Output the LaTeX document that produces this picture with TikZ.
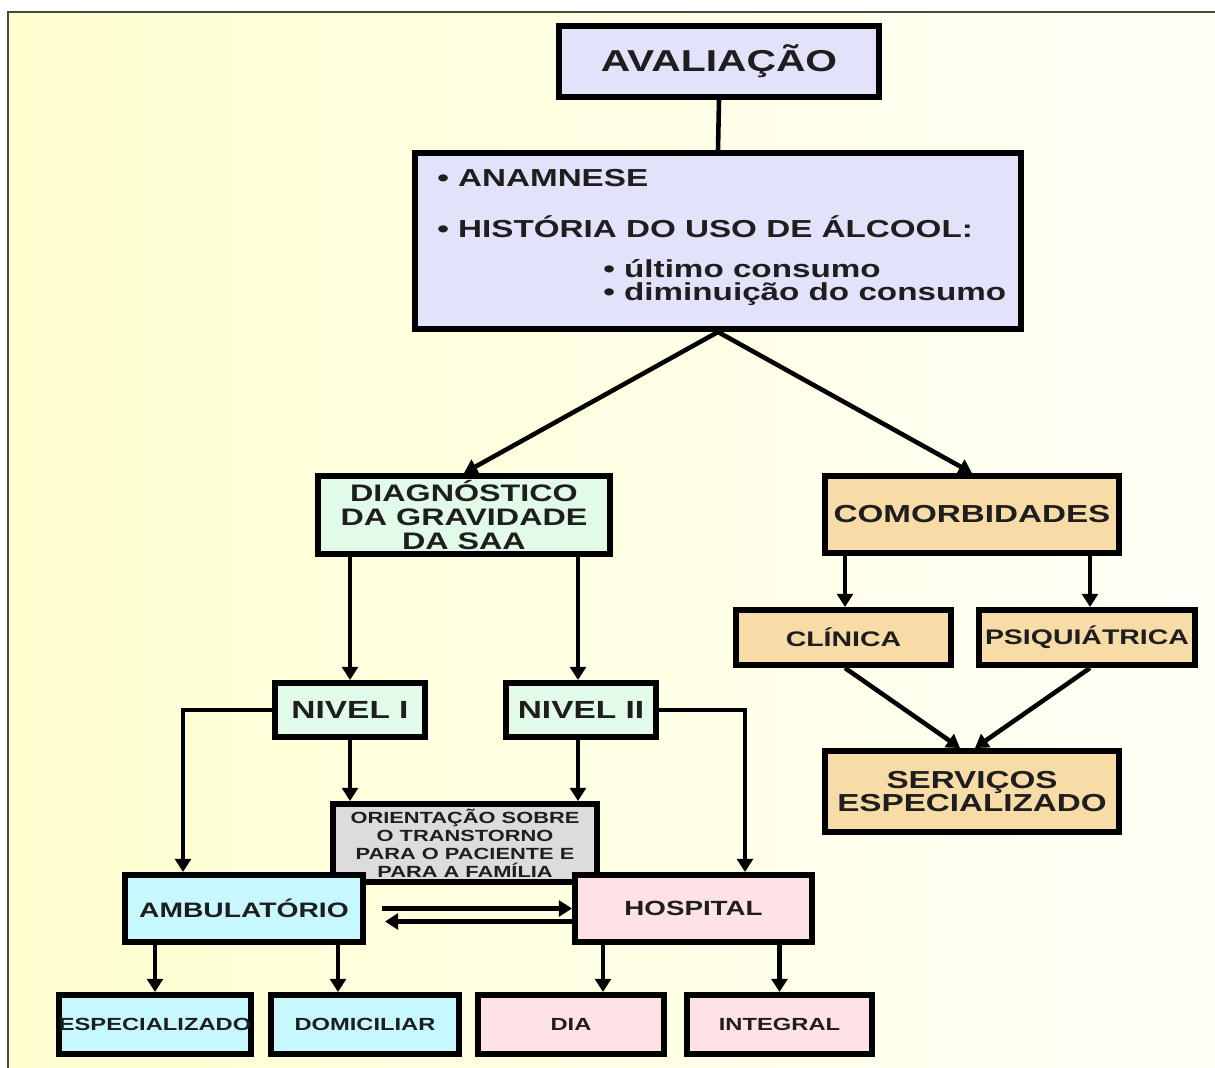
\documentclass[tikz,border=0pt]{standalone}
\usepackage{fontspec}
\setmainfont{Liberation Sans}[FakeStretch=1.35]
\usepackage{tikz}
\usetikzlibrary{calc,arrows.meta}
\definecolor{bgl}{HTML}{FFFFD0}
\definecolor{bgr}{HTML}{FFFFF8}
\definecolor{frame}{HTML}{4A4838}
\definecolor{lav}{HTML}{E2E2FA}
\definecolor{mint}{HTML}{E2FAE8}
\definecolor{sand}{HTML}{F8DCA8}
\definecolor{grey}{HTML}{DCDCDC}
\definecolor{aqua}{HTML}{C8F8FF}
\definecolor{rose}{HTML}{FFE2E6}
\definecolor{ink}{HTML}{1E1E1E}
\tikzset{
  box/.style={draw=black, line width=3.4pt, inner sep=0pt, align=center, text=ink},
  lnk/.style={draw=black, line width=2.6pt},
  arr/.style={lnk, -{Triangle[width=9pt,length=7.5pt]}},
  lab/.style={anchor=base west, inner sep=0pt, text=ink, align=left},
}
\newcommand{\fsz}[2]{\fontsize{#1}{#2}\selectfont\bfseries}

\begin{document}
\begin{tikzpicture}[x=0.02cm, y=-0.02cm]
  \useasboundingbox (0,0) rectangle (1215,1068);
  \shade[left color=bgl, right color=bgr] (8,12) rectangle (1215,1068);
  \draw[frame, line width=1.2pt] (8,1068) -- (8,12) -- (1215,12);

  % top part
  \node[box, fill=lav, minimum width=6.4cm, minimum height=1.42cm, font=\fsz{17.2}{18}] (aval) at (719,61.5) {AVALIAÇÃO};
  \node[box, fill=lav, minimum width=12.12cm, minimum height=3.52cm] (anam) at (718,241) {};
  \node[lab, font=\fsz{14}{15}] (anam1) at (437,187) {• ANAMNESE};
  \node[lab, font=\fsz{14}{15}] (anam2) at (437,237) {• HISTÓRIA DO USO DE ÁLCOOL:};
  \node[lab, font=\fsz{14}{13}] (anam3) at (603,300) {• último consumo\\• diminuição do consumo};

  \node[box, fill=mint, minimum width=5.84cm, minimum height=1.56cm, font=\fsz{13.6}{13.9}] (diag) at (464,515) {DIAGNÓSTICO\\DA GRAVIDADE\\DA SAA};
  \node[box, fill=sand, minimum width=5.88cm, minimum height=1.54cm, font=\fsz{14}{15}] (comorb) at (972,514.5) {COMORBIDADES};

  % comorbidades
  \node[box, fill=sand, minimum width=4.3cm, minimum height=1.1cm, font=\fsz{12}{13}] (clin) at (843.5,637.5) {CLÍNICA};
  \node[box, fill=sand, minimum width=4.32cm, minimum height=1.1cm, font=\fsz{12}{13}] (psiq) at (1087,637.5) {PSIQUIÁTRICA};
  \node[box, fill=sand, minimum width=5.88cm, minimum height=1.62cm, font=\fsz{14}{13.6}] (serv) at (972,791.5) {SERVIÇOS\\ESPECIALIZADO};

  % niveis
  \node[box, fill=mint, minimum width=3cm, minimum height=1.08cm, font=\fsz{14.1}{15}] (nivA) at (350,710) {NIVEL I};
  \node[box, fill=mint, minimum width=3cm, minimum height=1.08cm, font=\fsz{14.1}{15}] (nivB) at (581,710) {NIVEL II};
  \node[box, fill=grey, minimum width=5.28cm, minimum height=1.56cm, font=\fsz{9.2}{10.2}] (orient) at (465,843) {ORIENTAÇÃO SOBRE\\O TRANSTORNO\\PARA O PACIENTE E\\PARA A FAMÍLIA};
  \node[box, fill=aqua, minimum width=4.76cm, minimum height=1.34cm, font=\fsz{11.9}{13}] (amb) at (244,908.5) {AMBULATÓRIO};
  \node[box, fill=rose, minimum width=4.74cm, minimum height=1.34cm, font=\fsz{11.7}{13}] (hosp) at (693.5,908.5) {HOSPITAL};

  % bottom row
  \node[box, fill=aqua, minimum width=3.8cm, minimum height=1.18cm, font=\fsz{10}{11}] (espec) at (155,1024.5) {ESPECIALIZADO};
  \node[box, fill=aqua, minimum width=3.76cm, minimum height=1.18cm, font=\fsz{10}{11}] (domic) at (365,1024.5) {DOMICILIAR};
  \node[box, fill=rose, minimum width=3.72cm, minimum height=1.18cm, font=\fsz{10}{11}] (dia) at (571,1024.5) {DIA};
  \node[box, fill=rose, minimum width=3.7cm, minimum height=1.18cm, font=\fsz{10}{11}] (integ) at (779.5,1024.5) {INTEGRAL};

  % connectors
  \draw[lnk] (aval.south) -- (anam.north);
  \draw[arr] (anam.south) -- (diag.north);
  \draw[arr] (anam.south) -- (comorb.north);
  \draw[arr] (nivA.north |- diag.south) -- (nivA.north);
  \draw[arr] ([xshift=-0.06cm]nivB.north |- diag.south) -- ([xshift=-0.06cm]nivB.north);
  \draw[arr] ([xshift=0.03cm]clin.north |- comorb.south) -- ([xshift=0.03cm]clin.north);
  \draw[arr] ([xshift=0.06cm]psiq.north |- comorb.south) -- ([xshift=0.06cm]psiq.north);
  \draw[arr] ([xshift=0.03cm]clin.south) -- ([xshift=-0.24cm]serv.north);
  \draw[arr] ([xshift=0.06cm]psiq.south) -- ([xshift=0.06cm]serv.north);
  \draw[arr] (nivA.west) -| ([xshift=-1.22cm]amb.north);
  \draw[arr] (nivA.south) -- (nivA.south |- orient.north);
  \draw[arr] ([xshift=-0.06cm]nivB.south) -- ([xshift=-0.06cm]nivB.south |- orient.north);
  \draw[arr] (nivB.east) -| ([xshift=1.03cm]hosp.north);
  \draw[arr] ([xshift=0.32cm]amb.east) -- (hosp.west);
  \draw[arr] ([yshift=-0.26cm]hosp.west) -- ([shift={(0.38cm,-0.26cm)}]amb.east);
  \draw[arr] (amb.south -| espec.north) -- (espec.north);
  \draw[arr] ([xshift=-0.54cm]amb.south -| domic.north) -- ([xshift=-0.54cm]domic.north);
  \draw[arr] ([xshift=0.64cm]hosp.south -| dia.north) -- ([xshift=0.64cm]dia.north);
  \draw[arr] (hosp.south -| integ.north) -- (integ.north);
\end{tikzpicture}
\end{document}
